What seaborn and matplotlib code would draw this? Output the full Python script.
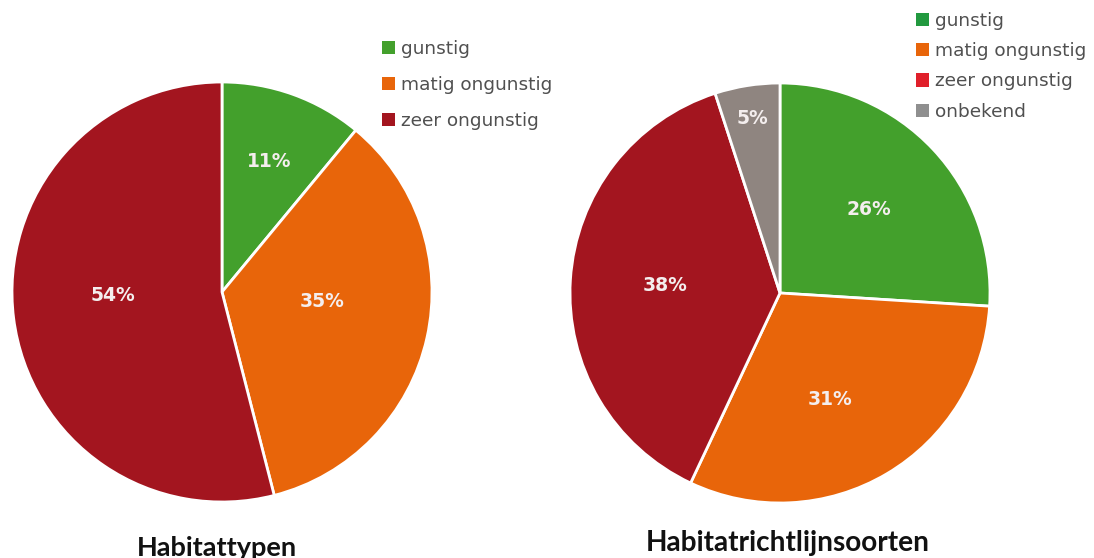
import matplotlib
matplotlib.use("Agg")
import matplotlib.pyplot as plt
from matplotlib.patches import Patch
import numpy as np
import seaborn as sns

sns.set_theme(style="white")
plt.rcParams['font.family'] = ['DejaVu Sans']

# ---- data ----
left_title = "Habitattypen"
left_labels = ["gunstig", "matig ongunstig", "zeer ongunstig"]
left_values = [11, 35, 54]

right_title = "Habitatrichtlijnsoorten"
right_labels = ["gunstig", "matig ongunstig", "zeer ongunstig", "onbekend"]
right_values = [26, 31, 38, 5]

# ---- styles ----
left_colors = ["#43a02c", "#e8650a", "#a3151f"]
right_colors = ["#43a02c", "#e8650a", "#a3151f", "#8f8580"]
right_legend_colors = ["#22993f", "#e8650a", "#e0202a", "#8f8f8f"]
left_pct_dist = [0.66, 0.48, 0.52]
left_pct_shift = [0, 7, -5.6]
right_pct_dist = [0.58, 0.56, 0.55, 0.84]
right_pct_shift = [0, -5.6, 0, 0]

W, H = 1094, 558
fig = plt.figure(figsize=(W / 100, H / 100), dpi=100)


def draw_pie(box, values, colors, dists, shifts):
    ax = fig.add_axes([box[0] / W, (H - box[3]) / H, (box[2] - box[0]) / W, (box[3] - box[1]) / H])
    wedges, texts, autotexts = ax.pie(
        values, colors=colors, startangle=90, counterclock=False,
        autopct=lambda p: f"{p:.0f}%", pctdistance=0.6,
        wedgeprops=dict(edgecolor="white", linewidth=2),
        textprops=dict(color="#f4eeee", fontsize=13.5, fontweight="bold"))
    for w, t, d, s in zip(wedges, autotexts, dists, shifts):
        ang = np.deg2rad((w.theta1 + w.theta2) / 2 + s)
        t.set_position((d * np.cos(ang), d * np.sin(ang)))
    ax.set_xlim(-1.0, 1.0)
    ax.set_ylim(-1.0, 1.0)
    ax.set_aspect("equal")
    ax.axis("off")
    return ax


draw_pie((12, 82, 432, 502), left_values, left_colors, left_pct_dist, left_pct_shift)
draw_pie((570, 83, 990, 503), right_values, right_colors, right_pct_dist, right_pct_shift)


def draw_legend(x, y, labels, colors, spacing):
    handles = [Patch(facecolor=c, edgecolor="none") for c in colors]
    fig.legend(handles, labels, loc="upper left", bbox_to_anchor=(x / W, 1 - y / H),
               frameon=False, labelcolor="#505050",
               prop=dict(family="DejaVu Sans", size=13.3),
               handlelength=0.72, handleheight=0.72, handletextpad=0.3,
               labelspacing=spacing, borderpad=0, borderaxespad=0)


draw_legend(382, 40, left_labels, left_colors, 0.97)
draw_legend(916, 12, right_labels, right_legend_colors, 0.66)

fig.text(217 / W, 1 - 548 / H, left_title, ha="center", va="center",
         fontsize=19.5, fontweight="bold", family="Lato", color="#111111")
fig.text(788 / W, 1 - 543 / H, right_title, ha="center", va="center",
         fontsize=20.2, fontweight="bold", family="Lato", color="#111111")

fig.savefig("out.png", dpi=100, facecolor="white")
